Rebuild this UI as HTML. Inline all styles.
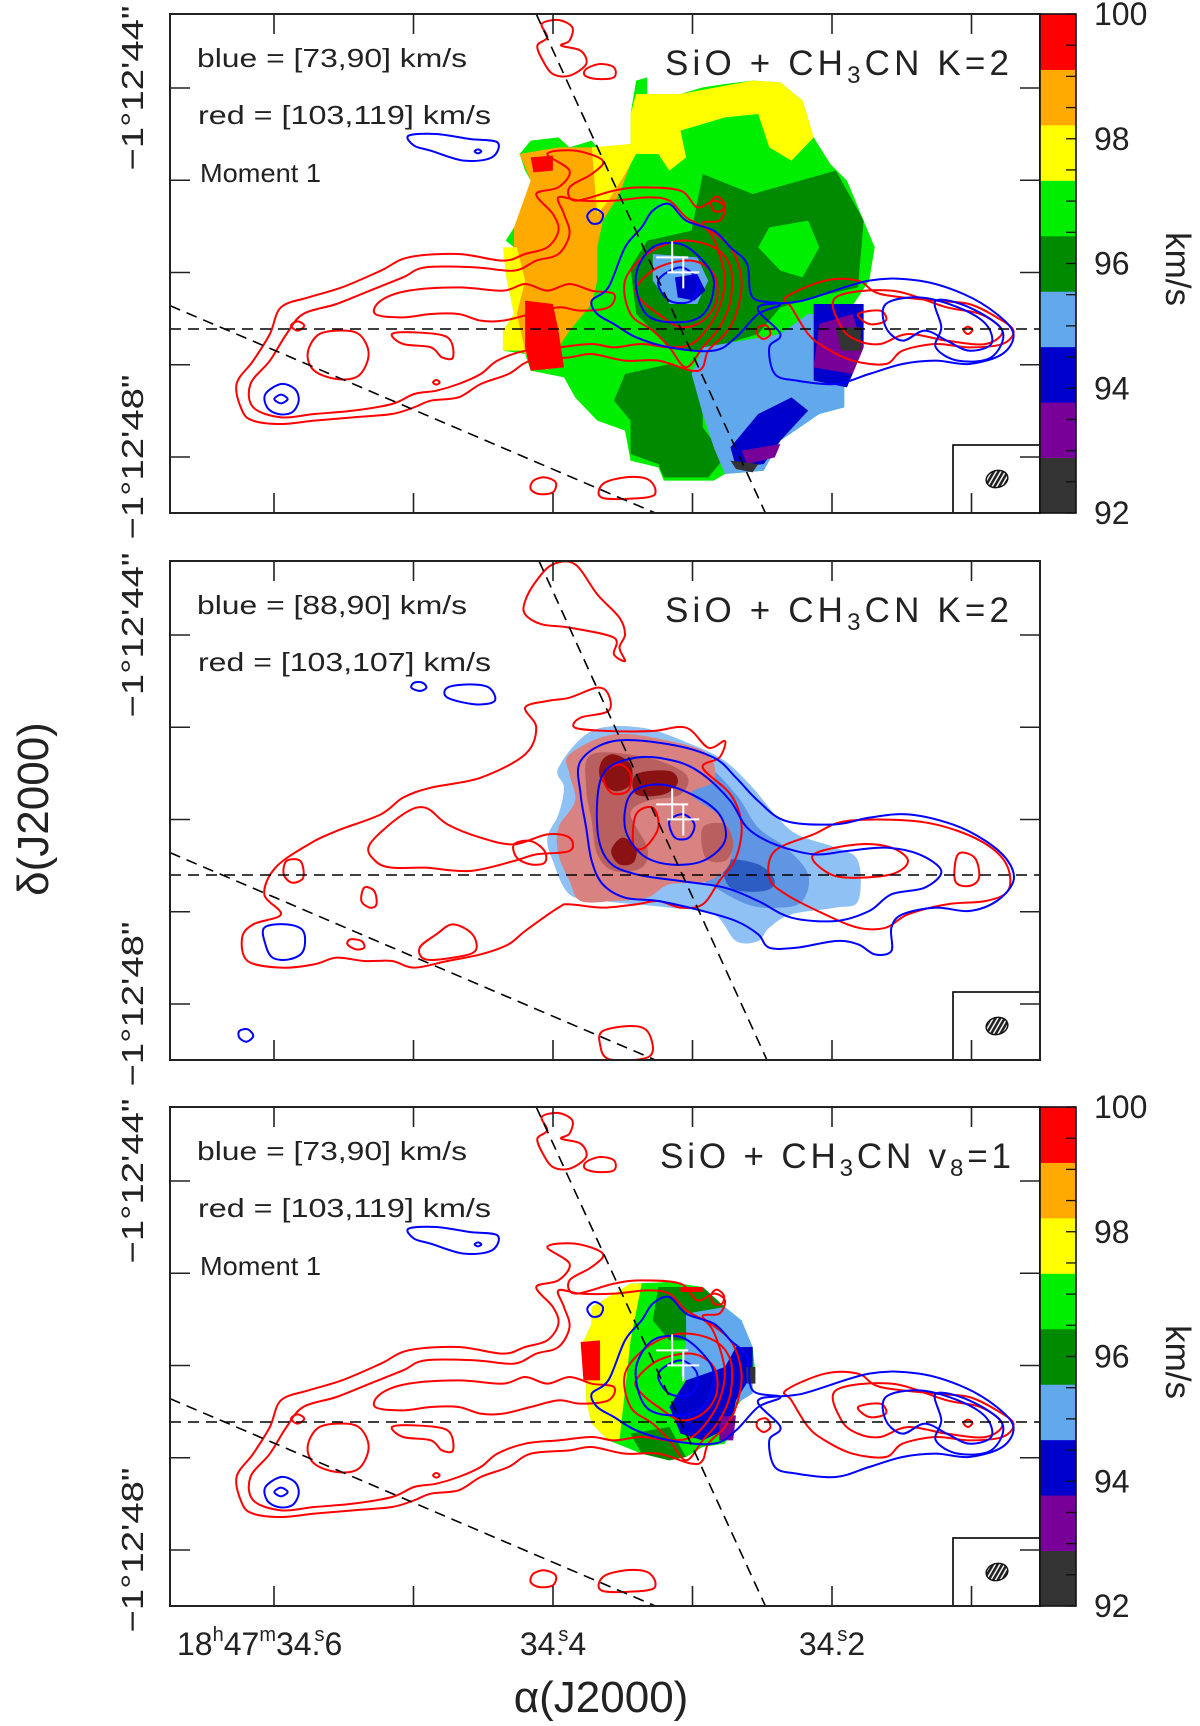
<!DOCTYPE html>
<html><head><meta charset="utf-8"><title>SiO + CH3CN maps</title>
<style>
html,body{margin:0;padding:0;background:#fff;}
svg{display:block;font-family:"Liberation Sans",sans-serif;}
</style></head>
<body>
<svg id="fig" xmlns="http://www.w3.org/2000/svg" width="1200" height="1726" viewBox="0 0 1200 1726">
<defs>
<pattern id="hatch" width="4" height="4" patternUnits="userSpaceOnUse" patternTransform="rotate(45)"><rect width="4" height="4" fill="#fff"/><rect width="2.6" height="4" fill="#222"/></pattern>
</defs>
</svg>
<script>
// ---- data arrays ----
const panelTops = [14, 561, 1107];
const blueRanges = ["[73,90]", "[88,90]", "[73,90]"];
const redRanges = ["[103,119]", "[103,107]", "[103,119]"];
const raTicks = [34.6, 34.5, 34.4, 34.3, 34.2, 34.1];
const raLabels = [34.6, 34.4, 34.2];
const decTicks = [44, 45, 46, 47, 48];
const decLabels = [44, 48];
const cbarMin = 92, cbarMax = 100;
const cbarColors = ["#333333","#780098","#0000cc","#62a8ec","#008a00","#00ee00","#ffff00","#ffaa00","#ff0000"];
const cbarLabels = [92, 94, 96, 98, 100];

const NS = "http://www.w3.org/2000/svg";
const svg = document.getElementById("fig");
const X0 = 170, W = 870, H = 499;
const SX = 0.5549, SY = 1/3;
function xRA(ra){ return 274 + (34.6 - ra) * 1395; }
function yDec(top, d){ return top + 74 + (d - 44) * 92.25; }
function el(tag, attrs, parent){ const e = document.createElementNS(NS, tag); for (const k in attrs) e.setAttribute(k, attrs[k]); (parent||svg).appendChild(e); return e; }
function smooth(d){
  const nums = d.replace(/[MLZ]/g, " ").trim().split(/[\s,]+/).map(Number);
  const p = [];
  for (let i = 0; i + 1 < nums.length; i += 2) p.push([nums[i], nums[i+1]]);
  const n = p.length;
  if (n < 3) return d;
  let s = "M" + p[0][0] + "," + p[0][1];
  for (let i = 0; i < n; i++) {
    const p0 = p[(i-1+n)%n], p1 = p[i], p2 = p[(i+1)%n], p3 = p[(i+2)%n];
    const c1x = p1[0] + (p2[0]-p0[0])/6, c1y = p1[1] + (p2[1]-p0[1])/6;
    const c2x = p2[0] - (p3[0]-p1[0])/6, c2y = p2[1] - (p3[1]-p1[1])/6;
    s += " C" + c1x.toFixed(1) + "," + c1y.toFixed(1) + " " + c2x.toFixed(1) + "," + c2y.toFixed(1) + " " + p2[0] + "," + p2[1];
  }
  return s + " Z";
}

const mapMain1 = "M1050,200 L1100,205 1140,260 1160,370 1190,450 1220,500 1250,620 1270,700 1260,800 1240,850 1220,900 1215,1000 1215,1180 1170,1200 1100,1280 1070,1370 1000,1380 980,1400 890,1400 880,1360 830,1340 820,1250 770,1220 730,1150 710,1090 650,1070 640,1020 600,1010 600,950 620,900 605,780 620,700 605,680 620,640 640,580 650,500 640,470 630,420 650,380 700,370 720,400 760,380 770,400 830,390 830,300 840,200 860,190 860,240 920,240 960,220 1000,210 Z";
const map1Layers = [
 ["#ffaa00","M630,420 L700,400 770,400 820,400 830,450 810,540 780,620 770,700 770,800 760,870 720,950 700,1000 680,1070 640,1020 610,960 620,900 640,800 620,700 620,640 650,500 Z"],
 ["#ffff00","M830,300 L840,240 920,240 1050,200 1100,205 1140,260 1160,370 1120,440 1080,400 1060,300 1000,310 960,330 920,350 930,430 900,470 880,420 840,420 820,480 790,560 770,600 760,400 830,390 Z"],
 ["#ffff00","M600,700 L625,700 640,800 625,900 640,1010 600,1010 600,950 620,900 605,780 Z"],
 ["#008a00","M960,480 L1050,540 1200,470 1250,620 1240,820 1160,850 1100,880 1060,960 960,1010 900,1000 840,900 830,760 860,680 940,650 Z"],
 ["#00ee00","M1080,640 L1150,620 1170,700 1140,790 1100,770 1060,700 Z"],
 ["#008a00","M820,1080 L900,1050 960,1080 960,1240 1000,1330 970,1390 890,1390 880,1350 830,1320 830,1220 800,1160 Z"],
 ["#62a8ec","M960,1000 L1100,960 1150,900 1215,900 1215,1180 1170,1200 1100,1280 1070,1370 1000,1380 980,1300 960,1200 940,1080 Z"],
 ["#62a8ec","M870,720 L950,730 970,800 950,870 900,870 870,800 Z"],
 ["#0000cc","M1060,1200 L1120,1150 1150,1190 1100,1280 1070,1350 1020,1360 1010,1300 Z"],
 ["#0000cc","M1160,870 L1250,870 1250,1000 1220,1120 1160,1100 1160,960 Z"],
 ["#0000cc","M910,790 L950,780 965,830 945,860 915,850 Z"],
 ["#780098","M1170,930 L1230,900 1250,1000 1230,1080 1160,1060 Z"],
 ["#780098","M1030,1310 L1100,1290 1090,1330 1040,1350 Z"],
 ["#333333","M1200,940 L1245,940 1245,1010 1210,1010 Z"],
 ["#333333","M1010,1340 L1060,1350 1050,1375 1020,1365 Z"],
 ["#ff0000","M640,860 L690,870 700,950 710,1060 650,1070 640,1000 Z"],
 ["#ff0000","M650,430 L690,425 690,470 655,475 Z"]
];
const mapMain3 = "M760,600 L830,530 900,525 960,540 1000,600 1030,640 1050,720 1055,800 1040,860 1020,900 1010,980 1000,1010 960,1020 930,1050 900,1060 850,1040 820,1020 790,1000 760,950 750,880 750,800 740,720 760,650 Z";
const map3Layers = [
 ["#ffff00","M760,600 L830,530 850,530 830,700 820,850 810,1000 790,1000 760,950 750,880 750,800 740,720 760,650 Z"],
 ["#008a00","M880,540 L960,540 1000,600 960,700 900,700 870,640 Z"],
 ["#62a8ec","M930,620 L1000,600 1030,640 1050,720 1050,860 1010,900 960,880 920,800 930,700 Z"],
 ["#0000cc","M930,820 L1000,780 1020,720 1050,720 1050,800 1020,880 1010,960 960,1000 920,980 900,900 Z"],
 ["#780098","M990,930 L1020,925 1015,1000 990,1000 Z"],
 ["#333333","M1038,780 L1055,780 1055,830 1040,830 Z"],
 ["#008a00","M830,980 L900,960 930,1050 900,1060 850,1040 Z"],
 ["#ff0000","M740,705 L775,700 775,820 745,820 Z"],
 ["#ff0000","M920,540 L960,540 960,555 920,555 Z"]
];
const red1 = [
 "M130,1190 L120,1110 150,1040 180,960 200,880 250,850 310,820 380,770 430,730 520,720 600,740 640,720 680,700 700,650 690,600 660,540 700,520 720,470 680,420 730,410 780,440 760,480 720,520 730,560 800,530 850,520 920,530 950,580 980,560 1000,580 990,620 960,630 1010,700 1030,800 1020,900 1000,960 970,1010 960,1060 940,1070 880,1040 820,1040 760,1020 720,1030 650,1040 610,1080 560,1110 520,1150 470,1160 440,1180 400,1200 330,1210 260,1220 200,1230 150,1220 Z",
 "M150,1180 L145,1110 180,1040 210,960 240,900 300,870 360,830 420,790 460,760 550,760 620,770 660,740 700,720 720,660 710,600 700,550 740,560 800,560 860,550 900,560 930,610 970,650 990,720 1000,800 990,880 970,940 940,990 900,1000 850,990 800,1000 760,990 700,1000 640,1010 590,1040 560,1080 520,1110 480,1130 440,1140 400,1170 330,1190 260,1200 200,1210 Z",
 "M370,900 L380,860 430,830 520,820 600,830 640,810 680,830 720,810 760,830 800,840 790,880 740,890 700,880 650,900 600,920 560,920 520,900 470,900 420,910 Z",
 "M300,950 L340,960 358,1020 340,1085 300,1095 260,1070 248,1020 265,965 Z",
 "M400,960 L440,955 500,970 510,1030 490,1030 470,1000 420,990 Z",
 "M230,922 L242,935 230,950 218,935 Z",
 "M480,1098 L486,1105 480,1112 474,1105 Z",
 "M820,800 L860,720 920,680 980,700 1010,760 1010,860 990,940 960,1000 930,1060 900,1000 870,950 830,900 Z",
 "M840,820 L880,760 940,740 980,780 985,860 960,920 920,940 880,900 850,860 Z",
 "M1110,850 L1180,800 1240,800 1280,840 1380,860 1440,870 1490,910 1520,950 1500,990 1440,1000 1380,990 1320,1010 1290,1050 1230,1040 1180,1000 1150,960 1120,880 Z",
 "M1200,850 L1300,830 1400,880 1460,900 1500,950 1470,990 1400,980 1330,960 1280,990 1240,980 1210,940 Z",
 "M1240,900 L1280,890 1290,920 1260,930 Z",
 "M1438,938 L1446,948 1438,960 1430,948 Z",
 "M670,30 L700,18 725,40 720,80 705,95 740,110 750,150 720,185 690,180 672,140 662,95 680,70 Z",
 "M750,165 L775,150 800,160 800,190 770,195 748,185 Z",
 "M985,548 L998,565 995,590 980,590 975,565 Z",
 "M1060,940 L1075,935 1082,960 1070,975 1058,960 Z",
 "M655,1400 L675,1390 695,1405 690,1435 665,1440 650,1425 Z",
 "M780,1410 L820,1390 860,1395 875,1430 860,1450 780,1452 Z"
];
const blue1 = [
 "M1060,880 L1140,860 1260,800 1350,800 1430,840 1490,900 1520,960 1500,1020 1440,1050 1380,1040 1320,1050 1260,1080 1200,1110 1130,1100 1090,1080 1080,1000 1100,960 Z",
 "M1290,870 L1350,850 1420,880 1470,930 1480,990 1440,1010 1400,980 1360,950 1320,980 1290,940 Z",
 "M1380,860 L1440,880 1500,950 1480,1030 1420,1040 1380,1000 1390,940 Z",
 "M760,860 L790,820 820,700 850,640 870,590 900,570 930,620 980,650 1010,700 1040,750 1050,850 1100,870 1060,900 1020,970 980,1010 900,1000 840,970 800,930 770,900 Z",
 "M840,780 L870,700 920,690 960,740 980,800 970,880 940,920 880,920 850,880 Z",
 "M880,800 L920,760 950,800 940,860 900,860 Z",
 "M430,365 L480,360 540,375 590,385 580,430 530,440 470,410 440,395 Z",
 "M555,406 L561,412 555,418 549,412 Z",
 "M200,1110 L225,1125 232,1160 220,1195 195,1200 175,1180 172,1140 Z",
 "M200,1142 L212,1155 200,1168 188,1155 Z",
 "M765,585 L780,600 775,625 760,628 752,605 Z"
];
const fill2 = [
 ["#8fc1f5","M700,620 L760,510 850,500 940,550 1000,600 1050,680 1090,760 1130,820 1200,860 1240,900 1240,1020 1200,1040 1120,1060 1080,1100 1060,1140 1020,1140 980,1060 900,1040 780,1020 720,1000 690,900 680,830 700,760 710,680 Z"],
 ["#5f95e2","M880,620 L960,610 1020,700 1060,800 1110,860 1150,940 1140,1020 1100,1040 1040,1030 960,960 880,900 860,750 Z"],
 ["#2d5cc2","M1000,900 L1060,910 1090,960 1070,990 1010,980 Z"],
 ["#d98282","M720,580 L800,520 900,540 970,580 980,660 940,700 1000,780 1010,900 970,960 900,970 860,1010 800,1020 740,1020 720,960 700,880 700,800 730,720 720,640 Z"],
 ["#b95f5f","M760,580 L860,590 930,640 920,700 860,720 830,760 860,860 850,920 800,930 770,880 760,780 750,680 Z"],
 ["#b95f5f","M960,800 L1000,790 1015,850 1000,900 965,890 Z"],
 ["#8b1212","M800,580 L830,610 830,670 800,690 775,650 778,600 Z"],
 ["#8b1212","M840,640 L900,630 915,665 890,700 840,700 Z"],
 ["#8b1212","M815,830 L840,860 835,905 810,910 795,870 Z"]
];
const red2 = [
 "M140,1200 L130,1130 150,1090 200,1060 170,1000 190,920 250,850 300,810 380,760 420,710 470,680 560,650 640,580 660,500 640,440 680,420 720,410 770,380 790,400 790,450 740,470 730,500 790,510 870,510 930,500 970,560 1000,540 990,590 960,620 1010,700 1030,790 1020,890 990,960 960,1030 920,1040 880,1020 840,1030 780,1040 720,1030 700,1040 640,1110 610,1150 560,1180 500,1200 440,1220 400,1200 350,1200 300,1190 260,1210 200,1220 Z",
 "M640,120 L660,60 690,10 730,10 770,100 810,170 820,220 810,260 820,300 800,280 800,230 720,200 670,190 640,160 Z",
 "M1090,870 L1160,820 1220,780 1340,780 1420,810 1480,860 1510,920 1510,990 1470,1020 1400,1030 1330,1060 1290,1100 1240,1100 1180,1060 1110,1000 1080,950 Z",
 "M1160,880 L1240,850 1300,860 1330,900 1300,940 1220,950 1180,930 Z",
 "M1420,880 L1450,890 1458,950 1440,975 1415,960 Z",
 "M360,850 L420,760 460,740 500,790 560,830 620,850 680,820 720,830 720,870 660,880 620,900 540,930 460,920 400,920 370,900 Z",
 "M620,850 L650,840 675,870 675,905 650,910 625,890 Z",
 "M350,980 L368,990 372,1030 360,1040 345,1020 Z",
 "M450,1160 L480,1120 510,1090 545,1120 550,1170 510,1190 460,1195 Z",
 "M325,1135 L345,1140 350,1160 335,1165 320,1150 Z",
 "M210,900 L235,900 240,950 220,965 205,940 Z",
 "M780,1410 L830,1395 860,1410 870,1470 850,1494 790,1494 775,1450 Z",
 "M780,640 L810,610 830,640 825,690 795,695 Z",
 "M840,760 L870,740 880,800 855,860 835,850 Z"
];
const blue2 = [
 "M740,600 L800,540 900,550 980,590 1020,650 1060,720 1110,780 1200,790 1260,770 1330,760 1410,790 1470,840 1510,900 1520,960 1490,1020 1440,1050 1380,1040 1320,1060 1300,1100 1300,1170 1270,1180 1240,1150 1200,1140 1130,1160 1080,1160 1060,1120 1020,1080 960,1050 880,1020 820,1010 780,970 760,900 750,800 740,700 Z",
 "M780,640 L840,590 910,600 960,640 1010,720 1040,800 1090,850 1160,880 1220,870 1290,860 1350,880 1390,930 1360,980 1300,1000 1260,1050 1200,1080 1120,1070 1060,1020 1000,980 920,960 840,940 790,900 770,800 Z",
 "M830,700 L880,670 940,700 990,760 1000,840 960,900 900,910 850,880 820,800 Z",
 "M900,780 L925,760 945,790 935,830 910,830 Z",
 "M170,1100 L210,1090 240,1110 240,1170 215,1195 185,1190 172,1150 Z",
 "M440,365 L455,365 462,380 450,390 435,380 Z",
 "M500,380 L540,370 575,380 585,420 550,430 500,410 Z",
 "M125,1410 L140,1405 150,1425 138,1442 125,1430 Z"
];
const crossesZ = [[905,730],[925,775]];

function addPaths(g, list, color, nameBase) {
  list.forEach(function(d, i){
    const p = el("path", {d: smooth(d), fill: "none", stroke: color, "stroke-width": 2, "vector-effect": "non-scaling-stroke", "stroke-linejoin": "round"}, g);
    
    
  });
}
function addFills(g, list, nameBase, sm) {
  list.forEach(function(f, i){
    const p = el("path", {d: sm ? smooth(f[1]) : f[1], fill: f[0], stroke: "none"}, g);
    
    
  });
}

panelTops.forEach(function(top, pi){
  const pg = el("g", {});
  
  
  const cp = el("clipPath", {id: "clip" + pi}, pg);
  el("rect", {x: X0, y: top, width: W, height: H}, cp);
  const inner = el("g", {"clip-path": "url(#clip" + pi + ")"}, pg);
  const zg = el("g", {transform: "translate(" + X0 + "," + top + ") scale(" + SX + "," + SY + ")"}, inner);
  if (pi === 0) {
    const m = el("path", {d: mapMain1, fill: "#00ee00"}, zg);
    
    
    addFills(zg, map1Layers, 'moment1-region', false);
  } else if (pi === 2) {
    const m = el("path", {d: mapMain3, fill: "#00ee00"}, zg);
    
    
    addFills(zg, map3Layers, 'moment1-region', false);
  } else {
    addFills(zg, fill2, 'ch3cn-emission', true);
  }
  if (pi === 1) {
    addPaths(zg, red2, "#ff0000", "red-contour");
    addPaths(zg, blue2, "#0000ff", "blue-contour");
  } else {
    addPaths(zg, red1, "#ff0000", "red-contour");
    addPaths(zg, blue1, "#0000ff", "blue-contour");
  }
  const hz = pi === 1 ? 942 : 945;
  const lines = [
    [0, hz, 1568, hz],
    pi === 1 ? [665, 0, 1075, 1494] : [660, 0, 1073, 1497],
    [0, 875, 900, 1515]
  ];
  lines.forEach(function(L, li){
    const ln = el("line", {x1: X0 + L[0]*SX, y1: top + L[1]*SY, x2: X0 + L[2]*SX, y2: top + L[3]*SY, stroke: "#000", "stroke-width": 1.6, "stroke-dasharray": "11,7"}, inner);
    
    
  });
  crossesZ.forEach(function(c, ci){
    const cx = X0 + c[0]*SX, cy = top + c[1]*SY;
    const cr = el("path", {d: "M" + (cx-16) + "," + cy + " H" + (cx+16) + " M" + cx + "," + (cy-16) + " V" + (cy+16), stroke: "#fff", "stroke-width": 2, fill: "none"}, inner);
    
    
  });
  const bb = el("rect", {x: 953, y: top + H - 68, width: 87, height: 68, fill: "#fff", stroke: "#000", "stroke-width": 1.6}, pg);
  
  
  const be = el("ellipse", {cx: 997, cy: top + H - 34, rx: 11, ry: 8.5, fill: "url(#hatch)", stroke: "#111", "stroke-width": 1.4, transform: "rotate(-15 997 " + (top + H - 34) + ")"}, pg);
  
  
  const fr = el("rect", {x: X0, y: top, width: W, height: H, fill: "none", stroke: "#222", "stroke-width": 2}, pg);
  
  
  raTicks.forEach(function(ra){
    const x = xRA(ra);
    const t1 = el("line", {x1: x, y1: top, x2: x, y2: top + 20, stroke: "#222", "stroke-width": 1.6}, pg);
    
    
    const t2 = el("line", {x1: x, y1: top + H, x2: x, y2: top + H - 20, stroke: "#222", "stroke-width": 1.6}, pg);
    
    
  });
  decTicks.forEach(function(d){
    const y = yDec(top, d);
    const t1 = el("line", {x1: X0, y1: y, x2: X0 + 20, y2: y, stroke: "#222", "stroke-width": 1.6}, pg);
    
    
    const t2 = el("line", {x1: X0 + W, y1: y, x2: X0 + W - 20, y2: y, stroke: "#222", "stroke-width": 1.6}, pg);
    
    
  });
  decLabels.forEach(function(d){
    const y = yDec(top, d);
    const tx = el("text", {x: 0, y: 0, transform: "translate(143," + y + ") rotate(-90)", "text-anchor": "middle", "font-size": 31, fill: "#222", textLength: 165, lengthAdjust: "spacingAndGlyphs"}, pg);
    tx.textContent = "\u22121\u00b012'" + d + "\"";
    
    
  });
  const t1 = el("text", {x: 197, y: top + 53, "font-size": 26, fill: "#222", textLength: 270, lengthAdjust: "spacingAndGlyphs"}, pg);
  t1.textContent = "blue = " + blueRanges[pi] + " km/s";
  
  
  const t2 = el("text", {x: 198, y: top + 110, "font-size": 26, fill: "#222", textLength: 293, lengthAdjust: "spacingAndGlyphs"}, pg);
  t2.textContent = "red = " + redRanges[pi] + " km/s";
  
  
  if (pi !== 1) {
    const t3 = el("text", {x: 200, y: top + 168, "font-size": 26, fill: "#222", textLength: 121, lengthAdjust: "spacingAndGlyphs"}, pg);
    t3.textContent = "Moment 1";
    
    
  }
  const tt = el("text", {x: pi === 2 ? 660 : 665, y: top + 61, "font-size": 35, fill: "#222"}, pg);
  
  
  const a = el("tspan", {}, tt); a.textContent = "SiO + CH";
  const b = el("tspan", {"font-size": 24, dy: 8}, tt); b.textContent = "3";
  const c = el("tspan", {dy: -8}, tt); c.textContent = pi === 2 ? "CN v" : "CN K=2";
  if (pi === 2) {
    const s = el("tspan", {"font-size": 24, dy: 8}, tt); s.textContent = "8";
    const e2 = el("tspan", {dy: -8}, tt); e2.textContent = "=1";
  }
  tt.setAttribute("textLength", pi === 2 ? 351 : 344);
  tt.setAttribute("lengthAdjust", "spacing");
  if (pi !== 1) {
    const cg = el("g", {}, pg);
    
    
    const n = cbarColors.length, bh = H / n;
    cbarColors.forEach(function(col, i){
      const r = el("rect", {x: 1040, y: top + H - (i+1)*bh, width: 36, height: bh + 0.5, fill: col}, cg);
      
      
    });
    el("rect", {x: 1040, y: top, width: 36, height: H, fill: "none", stroke: "#111", "stroke-width": 1.6}, cg);
    for (let v = cbarMin; v <= cbarMax; v += 0.5) {
      const y = top + H - (v - cbarMin) / (cbarMax - cbarMin) * H;
      const tk = el("line", {x1: 1076, y1: y, x2: 1066, y2: y, stroke: "#111", "stroke-width": 1.3}, cg);
      
      
    }
    cbarLabels.forEach(function(v){
      const y = top + H - (v - cbarMin) / (cbarMax - cbarMin) * H;
      const lt = el("text", {x: 1094, y: y + 11, "font-size": 32, fill: "#222"}, cg);
      lt.textContent = String(v);
      
      
    });
    const ku = el("text", {x: 0, y: 0, transform: "translate(1166," + (top + 255) + ") rotate(90)", "text-anchor": "middle", "font-size": 35, fill: "#222"}, cg);
    ku.textContent = "km/s";
    
    
  }
});

raLabels.forEach(function(ra, i){
  const x = xRA(ra);
  const t = el("text", {x: i === 0 ? 177 : x, y: 1655, "font-size": 32, fill: "#222", "text-anchor": i === 0 ? "start" : "middle"});
  
  
  const s = ra.toFixed(1).split(".");
  if (i === 0) {
    const a1 = el("tspan", {}, t); a1.textContent = "18";
    const a2 = el("tspan", {"font-size": 20, dy: -14}, t); a2.textContent = "h";
    const a3 = el("tspan", {dy: 14}, t); a3.textContent = "47";
    const a4 = el("tspan", {"font-size": 20, dy: -14}, t); a4.textContent = "m";
    const a5 = el("tspan", {dy: 14}, t); a5.textContent = s[0] + ".";
  } else {
    const a5 = el("tspan", {}, t); a5.textContent = s[0] + ".";
  }
  const a6 = el("tspan", {"font-size": 20, dy: -14, dx: -6}, t); a6.textContent = "s";
  const a7 = el("tspan", {dy: 14}, t); a7.textContent = s[1];
});
const xt = el("text", {x: 601, y: 1712, "font-size": 44, fill: "#222", "text-anchor": "middle"});
xt.textContent = "\u03b1(J2000)";


const yt = el("text", {x: 0, y: 0, transform: "translate(48,809) rotate(-90)", "font-size": 44, fill: "#222", "text-anchor": "middle"});
yt.textContent = "\u03b4(J2000)";


</script>
</body></html>
